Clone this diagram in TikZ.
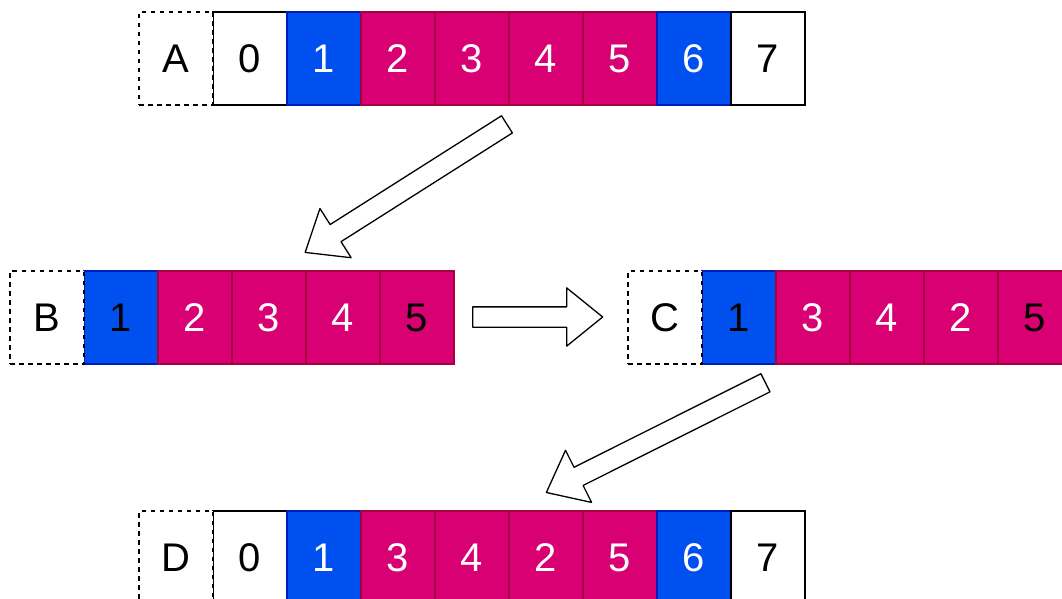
\documentclass[tikz,border=0pt]{standalone}
\usepackage{fontspec}
\setmainfont{Liberation Sans}
\usepackage{xcolor}
\usepackage{tikz}
\usetikzlibrary{shapes.arrows}
\definecolor{cblue}{HTML}{0050EF}
\definecolor{cblueline}{HTML}{001DBC}
\definecolor{cmag}{HTML}{D80073}
\definecolor{cmagline}{HTML}{A50040}

\begin{document}
\begin{tikzpicture}[
  x=1pt, y=-1pt,
  cell/.style={rectangle, draw, line width=1.2pt, minimum width=74pt, minimum height=93pt, inner sep=0pt, font=\fontsize{40}{48}\selectfont},
  wcell/.style={cell, fill=white, draw=black, text=black},
  bcell/.style={cell, fill=cblue, draw=cblueline, text=white},
  mcell/.style={cell, fill=cmag, draw=cmagline, text=white},
  lbl/.style={cell, fill=white, draw=black, dash pattern=on 4.5pt off 4.5pt},
  blockarr/.style={single arrow, draw=black, fill=white, line width=1.3pt, line join=round, inner xsep=0pt, inner ysep=9.5pt, minimum width=1pt, single arrow head extend=19pt, single arrow tip angle=78, anchor=tail}
]
\clip (0,0) rectangle (1062,599);
\useasboundingbox (0,0) rectangle (1062,599);

% Row A: input
\node[wcell] (a0) at (250,58.5) {0};
\node[bcell] (a1) at (324,58.5) {1};
\node[mcell] (a2) at (398,58.5) {2};
\node[mcell] (a3) at (472,58.5) {3};
\node[mcell] (a4) at (546,58.5) {4};
\node[mcell] (a5) at (620,58.5) {5};
\node[bcell] (a6) at (694,58.5) {6};
\node[wcell] (a7) at (768,58.5) {7};
\node[lbl] (la) at (176,58.5) {A};

% Row B: cut out
\node[bcell, text=black] (b1) at (121,317.5) {1};
\node[mcell] (b2) at (195,317.5) {2};
\node[mcell] (b3) at (269,317.5) {3};
\node[mcell] (b4) at (343,317.5) {4};
\node[mcell, text=black] (b5) at (417,317.5) {5};
\node[lbl] (lb) at (47,317.5) {B};

% Row C: reordered
\node[bcell, text=black] (c1) at (739,317.5) {1};
\node[mcell] (c3) at (813,317.5) {3};
\node[mcell] (c4) at (887,317.5) {4};
\node[mcell] (c2) at (961,317.5) {2};
\node[mcell, text=black] (c5) at (1035,317.5) {5};
\node[lbl] (lc) at (665,317.5) {C};

% Row D: result
\node[wcell] (d0) at (250,557.5) {0};
\node[bcell] (d1) at (324,557.5) {1};
\node[mcell] (d3) at (398,557.5) {3};
\node[mcell] (d4) at (472,557.5) {4};
\node[mcell] (d2) at (546,557.5) {2};
\node[mcell] (d5) at (620,557.5) {5};
\node[bcell] (d6) at (694,557.5) {6};
\node[wcell] (d7) at (768,557.5) {7};
\node[lbl] (ld) at (176,557.5) {D};

% Block arrows
\node[blockarr, rotate=212.4, minimum height=239pt] (arrAB) at (507.5,124) {};
\node[blockarr, minimum height=130pt] (arrBC) at (472,317) {};
\node[blockarr, rotate=206.6, minimum height=245pt] (arrCD) at (766,382.5) {};

\end{tikzpicture}
\end{document}
